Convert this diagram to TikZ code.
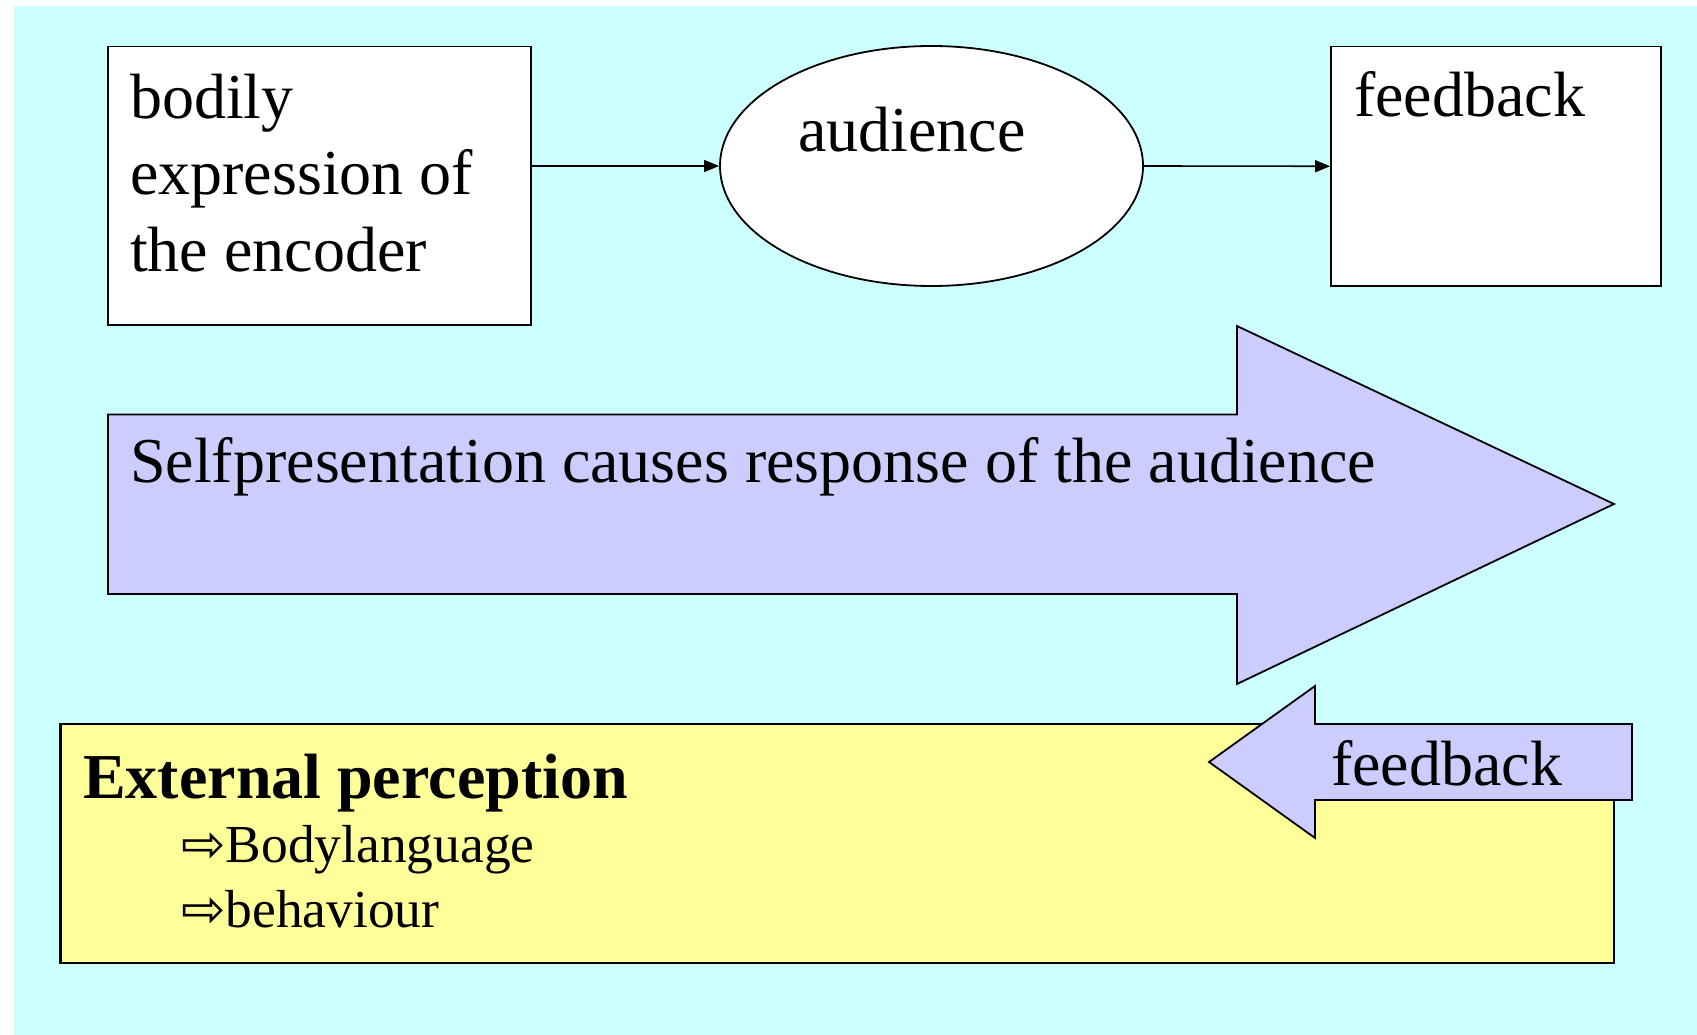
\documentclass[tikz,border=0pt]{standalone}
\usepackage{fontspec}
\setmainfont{Liberation Serif}
\newfontfamily\symfont{DejaVu Sans}
\usetikzlibrary{arrows.meta,shapes.geometric}
\definecolor{bgcyan}{HTML}{CCFFFF}
\definecolor{lav}{HTML}{CCCCFF}
\definecolor{yel}{HTML}{FFFF99}
\begin{document}
\begin{tikzpicture}[x=1pt,y=-1pt,
  shapeline/.style={draw=black,line width=1.8pt},
  wbox/.style={shapeline,fill=white,rectangle,inner sep=0pt},
  conn/.style={line width=1.6pt,-{Triangle[length=15pt,width=12pt]}},
  bigtxt/.style={anchor=base west,inner sep=0pt,font=\fontsize{64}{76}\selectfont},
  smalltxt/.style={anchor=base west,inner sep=0pt,font=\fontsize{53.5}{64}\selectfont}]
\useasboundingbox (0,0) rectangle (1697,1035);
\fill[white] (0,0) rectangle (1697,1035);
\fill[bgcyan] (14,6) rectangle (1697,1035);
% top row
\node[wbox,minimum width=423pt,minimum height=278.5pt] (b1) at (319.5,185.75) {};
\node[shapeline,fill=white,ellipse,inner sep=0pt,minimum width=423pt,minimum height=240pt] (aud) at (931.5,166) {};
\node[wbox,minimum width=330pt,minimum height=239.5pt] (fb) at (1496,166.25) {};
\node[bigtxt] (t1) at (130,119) {bodily};
\node[bigtxt] (t2) at (130,195) {expression of};
\node[bigtxt] (t3) at (130,271) {the encoder};
\node[bigtxt] (t4) at (798,151.5) {audience};
\node[bigtxt] (t5) at (1354,117) {feedback};
\draw[conn] (b1.east |- aud.west) -- (aud.west);
\draw[conn] (aud.east) -- (fb.west);
% big arrow
\draw[shapeline,fill=lav] (108,414.5) -- (1237,414.5) -- (1237,326) -- (1614,504) -- (1237,684) -- (1237,594) -- (108,594) -- cycle;
\node[bigtxt] (t6) at (130,482) {Selfpresentation causes response of the audience};
% yellow box
\node[shapeline,line width=2.4pt,fill=yel,rectangle,inner sep=0pt,minimum width=1553.4pt,minimum height=239pt] (yb) at (837.3,843.5) {};
\node[bigtxt,font=\fontsize{64}{76}\selectfont\bfseries] (t7) at (83,798) {External perception};
\node[smalltxt] (t8) at (181,862) {{\symfont\fontsize{53}{64}\selectfont ⇨}Bodylanguage};
\node[smalltxt] (t9) at (181,927.5) {{\symfont\fontsize{53}{64}\selectfont ⇨}behaviour};
% feedback arrow
\draw[shapeline,fill=lav] (1632,724) -- (1315,724) -- (1315,686) -- (1209,762) -- (1315,838) -- (1315,800) -- (1632,800) -- cycle;
\node[bigtxt] (t10) at (1331,785) {feedback};
\end{tikzpicture}
\end{document}
